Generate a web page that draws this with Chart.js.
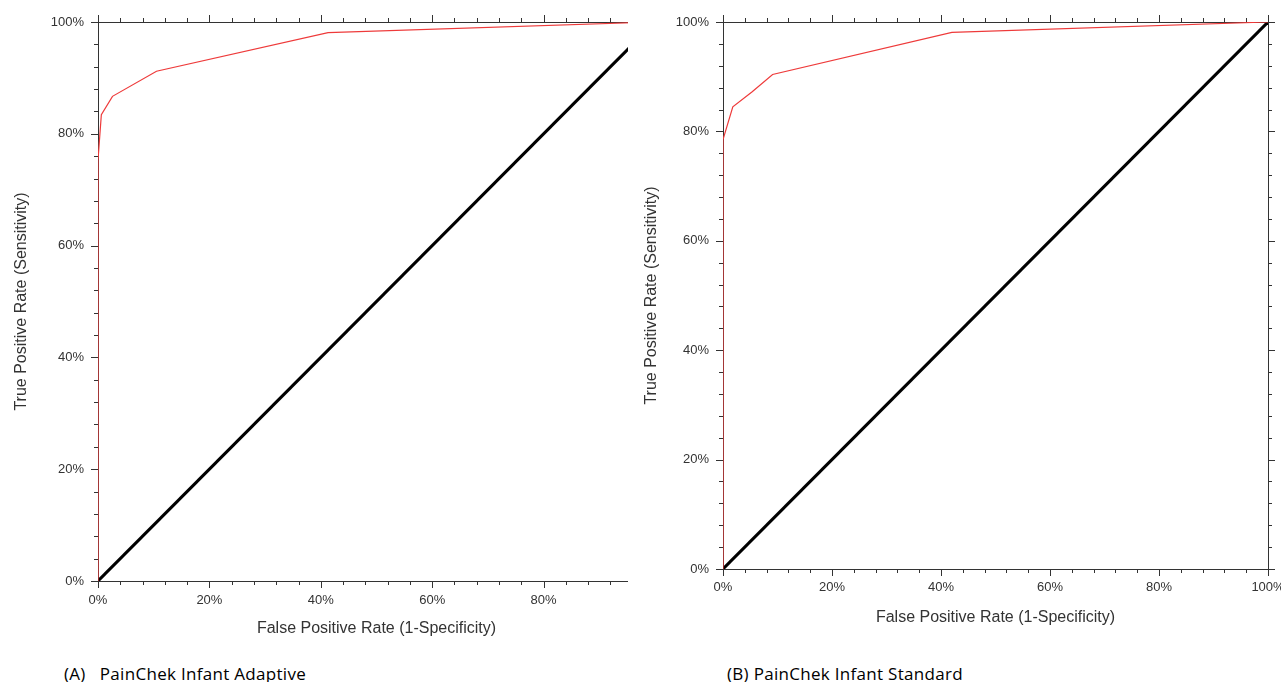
<!DOCTYPE html>
<html><head><meta charset="utf-8">
<script src="https://cdn.jsdelivr.net/npm/chart.js@4"></script>
<style>
html,body{margin:0;padding:0;background:#fff;width:1281px;height:682px;overflow:hidden;}
#wrapA{position:absolute;left:0;top:0;width:628px;height:650px;overflow:hidden;}
#wrapB{position:absolute;left:640px;top:0;width:641px;height:650px;overflow:hidden;}
canvas{display:block;}
.cap{position:absolute;top:663px;font-family:'Open Sans',sans-serif;font-size:17px;letter-spacing:0.3px;line-height:22px;color:#000;white-space:pre;}
</style></head>
<body>
<div id="wrapA"><canvas id="cA" width="660" height="650"></canvas></div>
<div id="wrapB"><canvas id="cB" width="641" height="650"></canvas></div>
<div class="cap" id="capA" style="left:64px"></div>
<div class="cap" id="capB" style="left:727px"></div>
<script>
// ---- data (percent) ----
const fprA = [0, 0, 0.6, 2.6, 10.5, 41.3, 100];
const tprA = [0, 75.3, 83.4, 86.7, 91.2, 98.1, 100];
const fprB = [0, 0, 1.8, 5.3, 9.1, 42.0, 100];
const tprB = [0, 78.5, 84.5, 87.2, 90.4, 98.1, 100];
const chanceX = [0, 100];
const chanceY = [0, 100];
const majorStep = 20;
const minorStep = 4;
const xTitle = 'False Positive Rate (1-Specificity)';
const yTitle = 'True Positive Rate (Sensitivity)';
const captionA = '(A)   PainChek Infant Adaptive';
const captionB = '(B) PainChek Infant Standard';

document.getElementById('capA').textContent = captionA;
document.getElementById('capB').textContent = captionB;

const pts = (xs, ys) => xs.map((x, i) => ({x: x, y: ys[i]}));

const edgeTicks = {
  id: 'edgeTicks',
  afterDraw(chart) {
    const ctx = chart.ctx;
    ctx.save();
    ctx.strokeStyle = '#333';
    ctx.lineWidth = 1;
    Object.values(chart.scales).forEach(s => {
      for (let v = s.min; v <= s.max + 1e-9; v += minorStep) {
        const major = Math.abs(v % majorStep) < 1e-6;
        const len = major ? 7 : 4;
        const p = Math.round(s.getPixelForValue(v)) + 0.5;
        ctx.beginPath();
        if (s.position === 'left') { ctx.moveTo(s.right, p); ctx.lineTo(s.right - len, p); }
        else if (s.position === 'right') { ctx.moveTo(s.left, p); ctx.lineTo(s.left + len, p); }
        else if (s.position === 'top') { ctx.moveTo(p, s.bottom); ctx.lineTo(p, s.bottom - len); }
        else { ctx.moveTo(p, s.top); ctx.lineTo(p, s.top + len); }
        ctx.stroke();
      }
    });
    ctx.restore();
  }
};

const tickFont = {family: "'Liberation Sans', Arial, sans-serif", size: 13};
const titleFont = {family: "'Liberation Sans', Arial, sans-serif", size: 16};
const border = {display: true, color: '#333', width: 1};
const grid = {display: true, drawOnChartArea: false, drawTicks: false};

function makeChart(id, fpr, tpr, g) {
  const fitH = h => s => { s.height = h; s.paddingLeft = 0; s.paddingRight = 0; };
  const fitW = w => s => { s.width = w; s.paddingTop = 0; s.paddingBottom = 0; };
  return new Chart(document.getElementById(id), {
    type: 'scatter',
    data: {
      datasets: [
        {data: pts(fpr, tpr), showLine: true, borderColor: '#ee3a3a', borderWidth: 1.2,
         pointRadius: 0, tension: 0, xAxisID: 'x', yAxisID: 'y'},
        {data: pts(chanceX, chanceY), showLine: true, borderColor: '#000', borderWidth: 3,
         pointRadius: 0, tension: 0, xAxisID: 'x', yAxisID: 'y'}
      ]
    },
    options: {
      responsive: false,
      animation: false,
      layout: {padding: 0},
      plugins: {legend: {display: false}, tooltip: {enabled: false}},
      scales: {
        x: {type: 'linear', position: 'bottom', min: 0, max: 100,
            ticks: {stepSize: majorStep, autoSkip: false, maxRotation: 0, padding: g.xLabelPad,
                    font: tickFont, color: '#333', callback: v => v + '%'},
            grid: grid, border: border,
            title: {display: true, text: xTitle, font: titleFont, color: '#333',
                    padding: {top: 0, bottom: g.xTitlePad}},
            afterFit: fitH(g.H - g.bottom)},
        y: {type: 'linear', position: 'left', min: 0, max: 100,
            ticks: {stepSize: majorStep, autoSkip: false, padding: 14,
                    font: tickFont, color: '#333', callback: v => v + '%'},
            grid: grid, border: border,
            title: {display: true, text: yTitle, font: titleFont, color: '#333',
                    padding: {top: g.yTitlePad, bottom: 0}},
            afterFit: fitW(g.left)},
        x2: {type: 'linear', axis: 'x', position: 'top', min: 0, max: 100,
             ticks: {display: false, stepSize: majorStep}, grid: grid, border: border,
             afterFit: fitH(g.top)},
        y2: {type: 'linear', axis: 'y', position: 'right', min: 0, max: 100,
             ticks: {display: false, stepSize: majorStep}, grid: grid, border: border,
             afterFit: fitW(g.W - g.right)}
      }
    },
    plugins: [edgeTicks]
  });
}

makeChart('cA', fprA, tprA, {left: 98, top: 22, bottom: 581, right: 655, W: 660, H: 650,
                             xLabelPad: 12, xTitlePad: 11.4, yTitlePad: 11.5});
makeChart('cB', fprB, tprB, {left: 83, top: 22, bottom: 569, right: 628, W: 641, H: 650,
                             xLabelPad: 11, xTitlePad: 22.4, yTitlePad: 1.5});
</script>
</body></html>
